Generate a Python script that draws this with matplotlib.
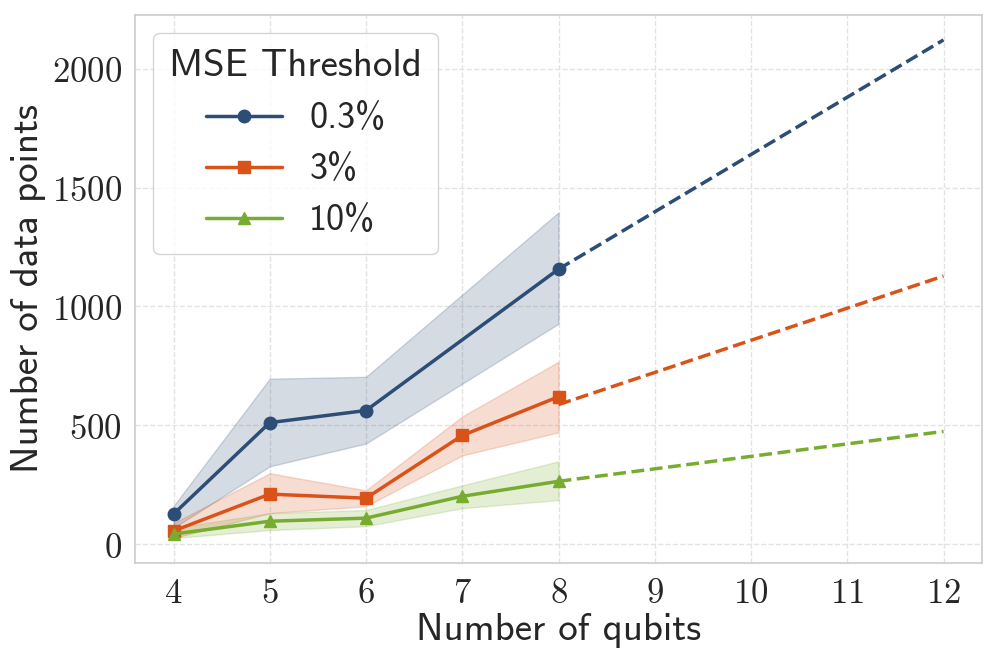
import matplotlib
matplotlib.use("Agg")
import matplotlib.pyplot as plt
import seaborn as sns
import numpy as np

sns.set_theme(style="whitegrid")
plt.rcParams["mathtext.fontset"] = "cm"
plt.rcParams["grid.linestyle"] = "--"
plt.rcParams["grid.color"] = "#e3e3e3"

# data
qubits = [4, 5, 6, 8]
mean_03 = [126, 511, 562, 1157]
lo_03 = [67, 327, 423, 927]
hi_03 = [160, 696, 704, 1396]

qubits_b = [4, 5, 6, 7, 8]
mean_3 = [55, 210, 193, 457, 620]
lo_3 = [25, 130, 159, 373, 470]
hi_3 = [88, 298, 226, 537, 767]

mean_10 = [42, 96, 109, 201, 264]
lo_10 = [25, 59, 75, 151, 185]
hi_10 = [67, 130, 143, 247, 348]

# extrapolation (8 -> 12 qubits)
fit_x = [8, 12]
fit_03 = [1157, 2122]
fit_3 = [587, 1128]
fit_10 = [264, 474]

c_blue = "#2C4D75"
c_orange = "#D95319"
c_green = "#77AC30"
sans = "cmss10"

fig = plt.figure(figsize=(9.97, 6.64), dpi=100)
ax = fig.add_axes([135 / 997, 1 - 563 / 664, 847 / 997, 548 / 664])

ax.fill_between(qubits, lo_03, hi_03, color=c_blue, alpha=0.2)
ax.fill_between(qubits_b, lo_3, hi_3, color=c_orange, alpha=0.2)
ax.fill_between(qubits_b, lo_10, hi_10, color=c_green, alpha=0.2)

ax.plot(qubits, mean_03, "-o", color=c_blue, lw=2.5, ms=9, label="0.3%")
ax.plot(qubits_b, mean_3, "-s", color=c_orange, lw=2.5, ms=9, label="3%")
ax.plot(qubits_b, mean_10, "-^", color=c_green, lw=2.5, ms=9, label="10%")

ax.plot(fit_x, fit_03, "--", color=c_blue, lw=2.5)
ax.plot(fit_x, fit_3, "--", color=c_orange, lw=2.5)
ax.plot(fit_x, fit_10, "--", color=c_green, lw=2.5)

ax.set_xticks(range(4, 13))
ax.set_xticklabels([r"$%d$" % i for i in range(4, 13)])
ax.set_yticks([0, 500, 1000, 1500, 2000])
ax.set_yticklabels([r"$%d$" % v for v in [0, 500, 1000, 1500, 2000]])
ax.tick_params(labelsize=25, colors="#262626")

ax.set_xlabel("Number of qubits", fontsize=28, family=sans, color="#262626", labelpad=2)
ax.set_ylabel("Number of data points", fontsize=28, family=sans, color="#262626", labelpad=4)

for s in ax.spines.values():
    s.set_color("#cccccc")
    s.set_linewidth(1.2)

leg = ax.legend(title="MSE Threshold", prop={"family": sans, "size": 26},
                loc="upper left", frameon=True, handlelength=2.1, handletextpad=0.75,
                borderpad=0.45, labelspacing=0.5, borderaxespad=0.5)
leg.get_title().set_fontfamily(sans)
leg.get_title().set_fontsize(28)
leg.get_frame().set_edgecolor("#cccccc")

fig.savefig("out.png", dpi=100)
